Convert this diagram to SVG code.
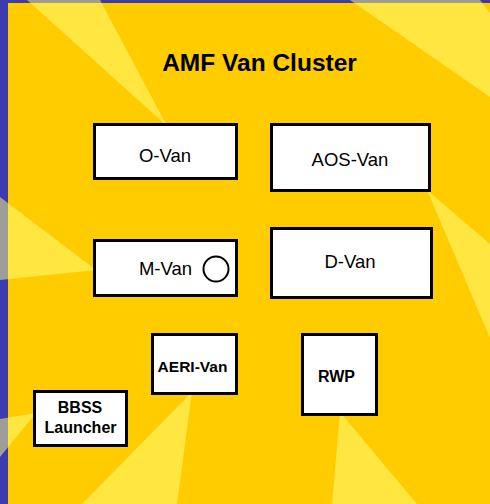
<svg xmlns="http://www.w3.org/2000/svg" width="490" height="504" viewBox="0 0 490 504">
<style>
.box{fill:#ffffff;stroke:#000000;stroke-width:3}
.ray{fill:#ffff80;fill-opacity:0.5}
.lbl{font-family:"Liberation Sans",Arial,sans-serif;font-size:18.5px;fill:#000;text-anchor:middle}
.bl{font-family:"Liberation Sans",Arial,sans-serif;font-weight:bold;fill:#000;text-anchor:middle}
</style>
<g id="background">
<rect x="0" y="0" width="490" height="504" fill="#3c3cb0"/>
<rect x="8" y="3" width="482" height="501" fill="#ffcc00"/>
<polygon class="ray" points="27,0 100,0 167,126"/>
<polygon class="ray" points="350,0 480,0 490,13 490,97"/>
<polygon class="ray" points="427,190 490,244 490,338"/>
<polygon class="ray" points="0,197 0,280 96,270"/>
<polygon class="ray" points="0,419 0,457 36,413"/>
<polygon class="ray" points="192,392 82,504 177,504"/>
<polygon class="ray" points="340,412 332,504 417,504"/>
</g>
<text class="bl" x="259.5" y="71" font-size="24.5">AMF Van Cluster</text>
<g id="connectors"/>
<g id="o-van">
<rect class="box" x="94.5" y="124.5" width="142" height="54"/>
<text class="lbl" x="165" y="162">O-Van</text>
</g>
<g id="aos-van">
<rect class="box" x="271.5" y="124.5" width="158" height="66"/>
<text class="lbl" x="350" y="166">AOS-Van</text>
</g>
<g id="m-van">
<rect class="box" x="94.5" y="240.5" width="142" height="55"/>
<text class="lbl" x="165.5" y="275">M-Van</text>
<circle cx="216" cy="269" r="12.5" fill="#ffffff" stroke="#000" stroke-width="2"/>
</g>
<g id="d-van">
<rect class="box" x="271.5" y="228.5" width="160" height="69"/>
<text class="lbl" x="350" y="268">D-Van</text>
</g>
<g id="aeri-van">
<rect class="box" x="152.5" y="334.5" width="84" height="59"/>
<text class="bl" x="192.5" y="372" font-size="15.5">AERI-Van</text>
</g>
<g id="rwp">
<rect class="box" x="302.5" y="334.5" width="74" height="80"/>
<text class="bl" x="336.5" y="382" font-size="16">RWP</text>
</g>
<g id="bbss-launcher">
<rect class="box" x="34.5" y="391.5" width="92" height="54"/>
<text class="bl" x="80" y="413" font-size="16">BBSS</text>
<text class="bl" x="80.5" y="433" font-size="16">Launcher</text>
</g>
</svg>
